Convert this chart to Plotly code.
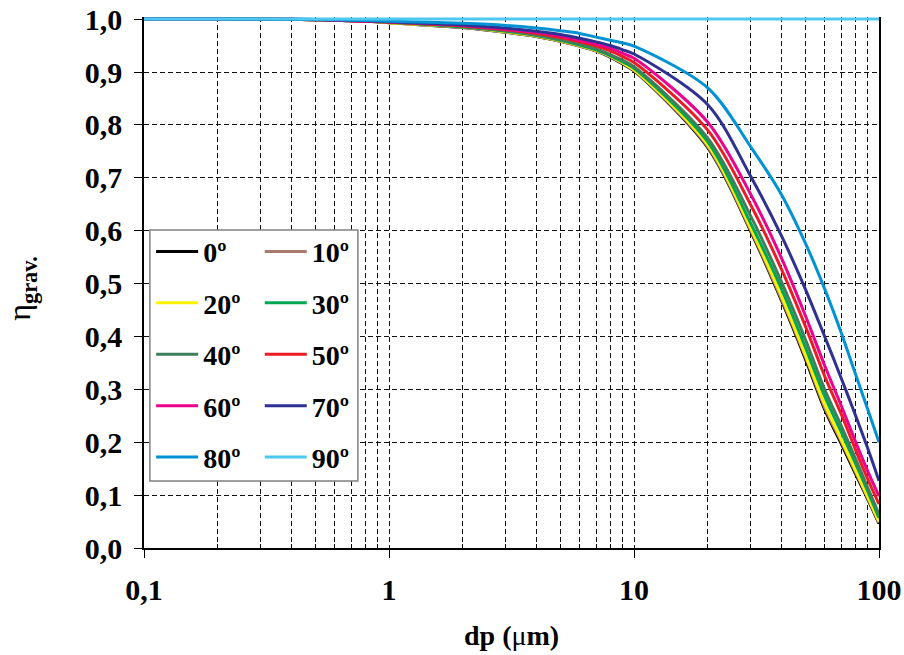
import plotly.graph_objects as go

# ---------------- data ----------------
dp = [0.1, 0.2, 0.3, 0.4, 0.5, 0.6, 0.7, 0.8, 0.9,
      1, 2, 3, 4, 5, 6, 7, 8, 9,
      10, 20, 30, 40, 50, 60, 70, 80, 90, 100]

angles = ['0º', '10º', '20º', '30º', '40º', '50º', '60º', '70º', '80º', '90º']

eta_00 = [1.000, 1.000, 0.9998, 0.9995, 0.999, 0.998, 0.997, 0.996, 0.995,
          0.993, 0.984, 0.975, 0.967, 0.958, 0.949, 0.940, 0.928, 0.915,
          0.902, 0.757, 0.598, 0.468, 0.358, 0.262, 0.198, 0.141, 0.092, 0.046]
eta_10 = [1.000, 1.000, 0.9998, 0.9995, 0.999, 0.998, 0.997, 0.996, 0.995,
          0.993, 0.984, 0.975, 0.967, 0.958, 0.949, 0.940, 0.929, 0.916,
          0.903, 0.759, 0.600, 0.471, 0.362, 0.266, 0.202, 0.145, 0.094, 0.048]
eta_20 = [1.000, 1.000, 0.9998, 0.9995, 0.999, 0.998, 0.997, 0.996, 0.995,
          0.993, 0.985, 0.976, 0.968, 0.959, 0.950, 0.941, 0.930, 0.917,
          0.904, 0.762, 0.604, 0.476, 0.366, 0.272, 0.206, 0.148, 0.097, 0.050]
eta_30 = [1.000, 1.000, 0.9998, 0.9995, 0.999, 0.998, 0.997, 0.996, 0.995,
          0.994, 0.985, 0.977, 0.969, 0.960, 0.951, 0.942, 0.931, 0.919,
          0.907, 0.768, 0.613, 0.490, 0.380, 0.287, 0.220, 0.161, 0.107, 0.057]
eta_40 = [1.000, 1.000, 0.9998, 0.9995, 0.999, 0.998, 0.997, 0.996, 0.995,
          0.994, 0.986, 0.978, 0.970, 0.961, 0.953, 0.944, 0.933, 0.922,
          0.910, 0.775, 0.627, 0.503, 0.395, 0.300, 0.232, 0.170, 0.114, 0.064]
eta_50 = [1.000, 1.000, 0.9998, 0.9996, 0.999, 0.998, 0.997, 0.996, 0.995,
          0.994, 0.987, 0.980, 0.973, 0.965, 0.957, 0.949, 0.940, 0.929,
          0.918, 0.790, 0.648, 0.527, 0.420, 0.325, 0.254, 0.187, 0.130, 0.083]
eta_60 = [1.000, 1.000, 0.9998, 0.9996, 0.999, 0.998, 0.997, 0.996, 0.996,
          0.995, 0.988, 0.981, 0.975, 0.968, 0.960, 0.953, 0.945, 0.935,
          0.926, 0.805, 0.668, 0.548, 0.440, 0.345, 0.270, 0.202, 0.145, 0.098]
eta_70 = [1.000, 1.000, 0.9999, 0.9997, 0.9993, 0.9985, 0.998, 0.997, 0.996,
          0.995, 0.989, 0.983, 0.977, 0.971, 0.964, 0.957, 0.950, 0.942,
          0.934, 0.838, 0.702, 0.590, 0.490, 0.400, 0.322, 0.252, 0.188, 0.127]
eta_80 = [1.000, 1.000, 1.000, 0.9998, 0.9995, 0.999, 0.998, 0.9975, 0.997,
          0.996, 0.992, 0.988, 0.983, 0.978, 0.973, 0.966, 0.960, 0.955,
          0.949, 0.870, 0.758, 0.668, 0.577, 0.490, 0.408, 0.330, 0.262, 0.200]
eta_90 = [1.000, 1.000, 1.000, 1.000, 1.000, 1.000, 1.000, 1.000, 1.000,
          1.000, 1.000, 1.000, 1.000, 1.000, 1.000, 1.000, 1.000, 1.000,
          1.000, 1.000, 1.000, 1.000, 1.000, 1.000, 1.000, 1.000, 1.000, 1.000]

series = [eta_00, eta_10, eta_20, eta_30, eta_40,
          eta_50, eta_60, eta_70, eta_80, eta_90]

colors = ['#000000', '#A87C6D', '#FFF200', '#00A651', '#3F7F5C',
          '#ED1C24', '#EC008C', '#2E3192', '#0092D2', '#4DC8F0']

x_major = [0.1, 1, 10, 100]
x_major_text = ['0,1', '1', '10', '100']
x_minor = [m * d for d in (0.1, 1, 10) for m in range(2, 10)]
y_ticks = [0.0, 0.1, 0.2, 0.3, 0.4, 0.5, 0.6, 0.7, 0.8, 0.9, 1.0]
y_text = ['0,0', '0,1', '0,2', '0,3', '0,4', '0,5', '0,6', '0,7', '0,8', '0,9', '1,0']

FONT = 'Liberation Serif'
GRID = '#111111'
DASH = '5px,3px'

fig = go.Figure()
for i, (name, vals, col) in enumerate(zip(angles, series, colors)):
    fig.add_trace(go.Scatter(
        x=dp, y=vals, mode='lines', name=name,
        line=dict(color=col, width=3, shape='spline', smoothing=0.9),
        legend='legend' if i % 2 == 0 else 'legend2',
        legendgroup=name,
    ))

leg_common = dict(
    bgcolor='rgba(0,0,0,0)', borderwidth=0,
    font=dict(family=FONT, size=28, color='black', weight='bold'),
    yanchor='top', xanchor='left', tracegroupgap=12, itemwidth=42,
)

fig.update_layout(
    width=904, height=655,
    margin=dict(l=144, r=25, t=17, b=107),
    paper_bgcolor='white', plot_bgcolor='white',
    font=dict(family=FONT, size=24, color='black'),
    showlegend=True,
    legend=dict(x=0.0097, y=0.605, **leg_common),
    legend2=dict(x=0.1575, y=0.605, **leg_common),
    xaxis=dict(
        type='log', range=[-1, 2], automargin=False,
        tickvals=x_major, ticktext=x_major_text,
        ticks='outside', ticklen=8, tickwidth=1, tickcolor='black',
        showline=True, linecolor='black', linewidth=1.5,
        showgrid=True, gridcolor=GRID, gridwidth=1, griddash=DASH,
        minor=dict(tickvals=x_minor, ticks='inside', ticklen=4, tickwidth=1,
                   tickcolor='black', showgrid=True, gridcolor=GRID,
                   gridwidth=1, griddash=DASH),
        tickfont=dict(family=FONT, size=30, color='black', weight='bold'),
        ticklabelstandoff=6,
        zeroline=False,
    ),
    yaxis=dict(
        range=[0, 1.004], automargin=False,
        tickvals=y_ticks, ticktext=y_text,
        ticks='outside', ticklen=8, tickwidth=1, tickcolor='black',
        showline=True, linecolor='black', linewidth=1.5, mirror=True,
        showgrid=True, gridcolor=GRID, gridwidth=1, griddash=DASH,
        tickfont=dict(family=FONT, size=30, color='black', weight='bold'),
        ticklabelstandoff=6,
        zeroline=False,
    ),
    shapes=[dict(type='rect', xref='paper', yref='paper',
                 x0=0.008, x1=0.291, y0=0.126, y1=0.599,
                 line=dict(color='#808080', width=1.5),
                 fillcolor='white', layer='above')],
    annotations=[
        dict(text='<b>dp (</b>μ<b>m)</b>', xref='paper', yref='paper',
             x=0.5, y=-0.164, xanchor='center', yanchor='middle',
             showarrow=False, font=dict(family=FONT, size=28, color='black')),
        dict(text='η<sub><b>grav.</b></sub>', xref='paper', yref='paper',
             x=-0.166, y=0.49, xanchor='center', yanchor='middle', textangle=-90,
             showarrow=False, font=dict(family=FONT, size=32, color='black')),
    ],
)

fig.write_html('out.html')
